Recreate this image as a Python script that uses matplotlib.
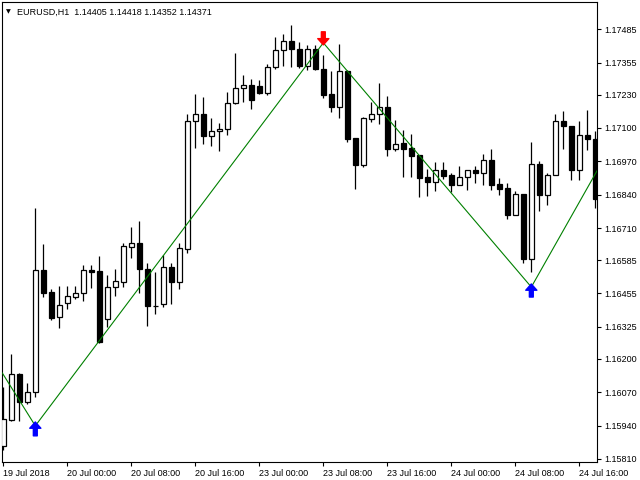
import matplotlib
matplotlib.use("Agg")
import matplotlib.pyplot as plt
from matplotlib.patches import Rectangle

# EURUSD H1, 19 Jul 16:00 .. 24 Jul 18:00 (one bar per hour)
opens = [1.15861, 1.15962, 1.16141, 1.16032, 1.16071, 1.16547, 1.16461, 1.16364, 1.16418, 1.16441,
         1.16457, 1.16547, 1.16543, 1.16356, 1.16480, 1.16500, 1.16636, 1.16652, 1.16551, 1.16406,
         1.16414, 1.16559, 1.16500, 1.16629, 1.17128, 1.17155, 1.17069, 1.17089, 1.17096, 1.17198,
         1.17256, 1.17268, 1.17264, 1.17237, 1.17338, 1.17404, 1.17439, 1.17408, 1.17342, 1.17408,
         1.17330, 1.17233, 1.17182, 1.17322, 1.17061, 1.16956, 1.17135, 1.17155, 1.17182, 1.17018,
         1.17042, 1.17022, 1.16995, 1.16909, 1.16890, 1.16937, 1.16917, 1.16878, 1.16909, 1.16937,
         1.16925, 1.16976, 1.16882, 1.16866, 1.16761, 1.16843, 1.16590, 1.16960, 1.16839, 1.16917,
         1.17128, 1.17108, 1.16937, 1.17073, 1.17057]
highs = [1.16091, 1.16220, 1.16145, 1.16106, 1.16788, 1.16648, 1.16473, 1.16484, 1.16484, 1.16484,
         1.16566, 1.16566, 1.16601, 1.16527, 1.16551, 1.16652, 1.16714, 1.16738, 1.16574, 1.16539,
         1.16605, 1.16574, 1.16652, 1.17155, 1.17233, 1.17221, 1.17139, 1.17120, 1.17241, 1.17393,
         1.17307, 1.17291, 1.17287, 1.17350, 1.17455, 1.17467, 1.17502, 1.17435, 1.17424, 1.17424,
         1.17385, 1.17322, 1.17428, 1.17326, 1.17061, 1.17143, 1.17202, 1.17276, 1.17225, 1.17131,
         1.17093, 1.17077, 1.16995, 1.16940, 1.16968, 1.16968, 1.16925, 1.16952, 1.16937, 1.16952,
         1.16999, 1.17018, 1.16905, 1.16886, 1.16855, 1.16843, 1.17046, 1.16972, 1.16925, 1.17155,
         1.17167, 1.17108, 1.17128, 1.17170, 1.17089]
lows = [1.15846, 1.15958, 1.15958, 1.16024, 1.16052, 1.16441, 1.16352, 1.16321, 1.16395, 1.16434,
        1.16426, 1.16477, 1.16262, 1.16325, 1.16445, 1.16480, 1.16594, 1.16457, 1.16329, 1.16375,
        1.16402, 1.16414, 1.16473, 1.16613, 1.17022, 1.17038, 1.17030, 1.17011, 1.17073, 1.17194,
        1.17202, 1.17174, 1.17233, 1.17229, 1.17330, 1.17342, 1.17338, 1.17334, 1.17326, 1.17326,
        1.17217, 1.17163, 1.17139, 1.17046, 1.16862, 1.16948, 1.17124, 1.17116, 1.16991, 1.17011,
        1.16909, 1.16909, 1.16831, 1.16835, 1.16855, 1.16901, 1.16851, 1.16878, 1.16859, 1.16886,
        1.16878, 1.16859, 1.16839, 1.16746, 1.16761, 1.16574, 1.16539, 1.16777, 1.16800, 1.16917,
        1.17018, 1.16898, 1.16898, 1.17015, 1.16788]
closes = [1.15966, 1.16141, 1.16032, 1.16071, 1.16547, 1.16457, 1.16360, 1.16410, 1.16445, 1.16457,
          1.16547, 1.16539, 1.16266, 1.16480, 1.16504, 1.16640, 1.16652, 1.16551, 1.16406, 1.16406,
          1.16559, 1.16500, 1.16632, 1.17128, 1.17155, 1.17069, 1.17089, 1.17096, 1.17198, 1.17256,
          1.17268, 1.17209, 1.17237, 1.17338, 1.17404, 1.17439, 1.17408, 1.17342, 1.17408, 1.17330,
          1.17229, 1.17182, 1.17322, 1.17057, 1.16956, 1.17139, 1.17155, 1.17182, 1.17018, 1.17038,
          1.17018, 1.16991, 1.16905, 1.16890, 1.16937, 1.16913, 1.16878, 1.16909, 1.16937, 1.16925,
          1.16976, 1.16878, 1.16862, 1.16761, 1.16843, 1.16590, 1.16960, 1.16839, 1.16917, 1.17128,
          1.17108, 1.16937, 1.17073, 1.17057, 1.16824]

# zigzag indicator (bar position, price)
zz_bars = [-0.125, 4, 40, 66, 74.21]
zz_prices = [1.16145, 1.15939, 1.17432, 1.16480, 1.16933]

# signal arrows: bar, tail price, tip price, colour
arrow_bars = [4, 40, 66]
arrow_tails = [1.15900, 1.17475, 1.16441]
arrow_tips = [1.15954, 1.17424, 1.16492]
arrow_colors = ["#0000FF", "#FF0000", "#0000FF"]

price_levels = [1.17485, 1.17355, 1.17230, 1.17100, 1.16970, 1.16840, 1.16710,
                1.16585, 1.16455, 1.16325, 1.16200, 1.16070, 1.15940, 1.15810]
time_ticks = [0, 8, 16, 24, 32, 40, 48, 56, 64, 72]
time_labels = ["19 Jul 2018", "20 Jul 00:00", "20 Jul 08:00", "20 Jul 16:00", "23 Jul 00:00",
               "23 Jul 08:00", "23 Jul 16:00", "24 Jul 00:00", "24 Jul 08:00", "24 Jul 16:00"]

header = "EURUSD,H1  1.14405 1.14418 1.14352 1.14371"

plt.rcParams['font.family'] = ['Liberation Sans', 'DejaVu Sans']

fig = plt.figure(figsize=(6.4, 4.8), dpi=100)
ax = fig.add_axes([2.3 / 640, 1 - 462 / 480, (597 - 2.3) / 640, (462 - 2.3) / 480])

body_w = 0.55
for i in range(len(opens)):
    o, h, l, c = opens[i], highs[i], lows[i], closes[i]
    ax.plot([i, i], [l, h], color="black", lw=0.9, zorder=2, solid_capstyle="butt")
    bull = c >= o
    ax.add_patch(Rectangle((i - body_w / 2, min(o, c)), body_w, abs(c - o),
                           facecolor="white" if bull else "black", edgecolor="black",
                           lw=0.9, zorder=3))

ax.plot(zz_bars, zz_prices, color="#008000", lw=0.8, zorder=4)

for b, t0, t1, col in zip(arrow_bars, arrow_tails, arrow_tips, arrow_colors):
    ax.annotate("", xy=(b, t1), xytext=(b, t0),
                arrowprops=dict(arrowstyle="simple,head_width=0.8,head_length=0.45,tail_width=0.28",
                                color=col, shrinkA=0, shrinkB=0, mutation_scale=10),
                zorder=5)

ax.set_xlim(-0.125, 74.21)
ax.set_ylim(1.15798, 1.17590)

ax.yaxis.tick_right()
ax.set_yticks(price_levels)
ax.set_yticklabels([f"{p:.5f}" for p in price_levels])
ax.set_xticks(time_ticks)
ax.set_xticklabels(time_labels)
for lbl in ax.get_xticklabels():
    lbl.set_horizontalalignment("left")
ax.tick_params(axis="both", length=3, width=0.8, labelsize=6.5, pad=2, colors="black")

for s in ax.spines.values():
    s.set_linewidth(0.8)
    s.set_color("black")

fig.text(8.5 / 640, 1 - 12 / 480, "\u25bc", fontsize=4.5, family="DejaVu Sans", ha="center", va="center")
fig.text(17 / 640, 1 - 12 / 480, header, fontsize=6.5, ha="left", va="center")

fig.savefig("out.png", dpi=100, facecolor="white")
